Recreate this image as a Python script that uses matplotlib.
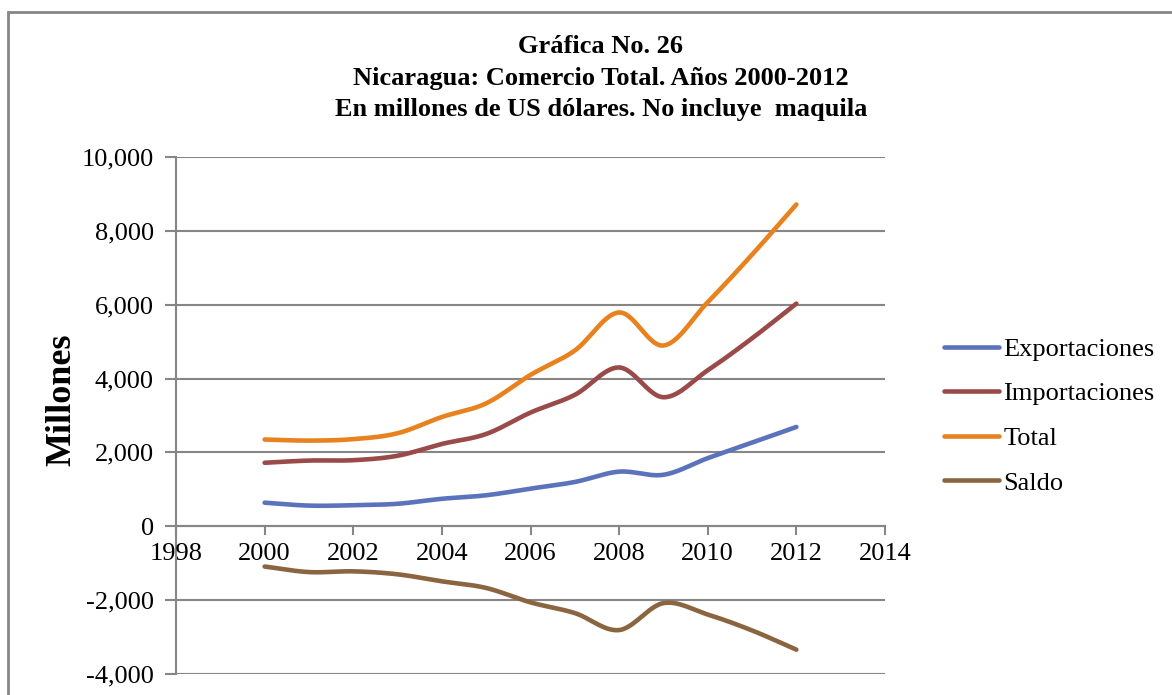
import numpy as np
import matplotlib
matplotlib.use("Agg")
import matplotlib.pyplot as plt
from matplotlib.patches import Rectangle
from matplotlib.ticker import FuncFormatter

plt.rcParams['font.family'] = ['Liberation Serif', 'DejaVu Serif']

# Data (millones de US$)
years = [2000, 2001, 2002, 2003, 2004, 2005, 2006, 2007, 2008, 2009, 2010, 2011, 2012]
exportaciones = [640, 560, 570, 610, 745, 840, 1020, 1200, 1480, 1395, 1845, 2265, 2690]
importaciones = [1720, 1780, 1790, 1910, 2230, 2500, 3080, 3560, 4300, 3495, 4225, 5090, 6030]
total = [2350, 2320, 2360, 2520, 2960, 3330, 4100, 4760, 5790, 4895, 6070, 7355, 8715]
saldo = [-1090, -1240, -1220, -1300, -1490, -1670, -2060, -2350, -2810, -2080, -2390, -2820, -3340]

series = ["Exportaciones", "Importaciones", "Total", "Saldo"]
colors = ["#5B73BA", "#9B4A4A", "#E8821E", "#8A6540"]

title = "Gráfica No. 26\nNicaragua: Comercio Total. Años 2000-2012\nEn millones de US dólares. No incluye  maquila"


def smooth(x, y, n=30):
    # Catmull-Rom style curve through the points (like Excel "smoothed line")
    x = np.asarray(x, float); y = np.asarray(y, float)
    px = np.concatenate([[2*x[0]-x[1]], x, [2*x[-1]-x[-2]]])
    py = np.concatenate([[2*y[0]-y[1]], y, [2*y[-1]-y[-2]]])
    xs, ys = [], []
    t = np.linspace(0, 1, n)
    for i in range(1, len(px) - 2):
        p0, p1, p2, p3 = py[i-1], py[i], py[i+1], py[i+2]
        q0, q1, q2, q3 = px[i-1], px[i], px[i+1], px[i+2]
        b1y = p1 + (p2 - p0) / 6; b2y = p2 - (p3 - p1) / 6
        b1x = q1 + (q2 - q0) / 6; b2x = q2 - (q3 - q1) / 6
        ys.append((1-t)**3*p1 + 3*(1-t)**2*t*b1y + 3*(1-t)*t**2*b2y + t**3*p2)
        xs.append((1-t)**3*q1 + 3*(1-t)**2*t*b1x + 3*(1-t)*t**2*b2x + t**3*q2)
    return np.concatenate(xs), np.concatenate(ys)


fig = plt.figure(figsize=(11.72, 6.95), dpi=100)
ax = fig.add_axes([0.1502, 0.0302, 0.6049, 0.7439])

grid_c = "#868686"
for name, vals, c in zip(series, [exportaciones, importaciones, total, saldo], colors):
    sx, sy = smooth(years, vals)
    ax.plot(sx, sy, color=c, lw=3.3, label=name, solid_capstyle='round', zorder=3)

ax.set_xlim(1998, 2014)
ax.set_ylim(-4000, 10000)
ax.set_xticks(range(1998, 2015, 2))
ax.set_yticks(range(-4000, 10001, 2000))
ax.yaxis.set_major_formatter(FuncFormatter(lambda v, p: f"{int(v):,}"))
ax.grid(axis='y', color=grid_c, lw=1.5, zorder=1)

for s in ['top', 'right', 'bottom']:
    ax.spines[s].set_visible(False)
ax.spines['left'].set_color(grid_c)
ax.spines['left'].set_linewidth(1.5)
ax.axhline(0, color=grid_c, lw=1.5, zorder=2)

ax.tick_params(axis='y', direction='out', length=8, width=1.5, color=grid_c,
               labelsize=19, pad=8)
ax.tick_params(axis='x', length=0)
# x labels sit just under the zero line
ax.set_xticklabels([])
for yr in range(1998, 2015, 2):
    ax.plot([yr, yr], [0, -200], color=grid_c, lw=1.5, zorder=2, clip_on=False)
    ax.text(yr, -460, str(yr), ha='center', va='top', fontsize=19)

fig.text(62/1172, 1 - 400/695, "Millones", rotation=90, ha='center', va='center',
         fontsize=26, fontweight='bold')

fig.text(0.5 + 15/1172, 1 - 78/695, title, ha='center', va='center', fontsize=19,
         fontweight='bold', linespacing=1.47)

leg = fig.legend(loc='center left', bbox_to_anchor=(944/1172, 1 - 416/695), frameon=False,
                 fontsize=19, handlelength=2.1, handletextpad=0.15, labelspacing=0.8,
                 borderpad=0, borderaxespad=0)

fig.patches.append(Rectangle((8/1172, -0.1), 1.2, 1 - 12/695 + 0.1, transform=fig.transFigure,
                             fill=False, edgecolor=grid_c, lw=2))

fig.savefig("out.png", dpi=100)
